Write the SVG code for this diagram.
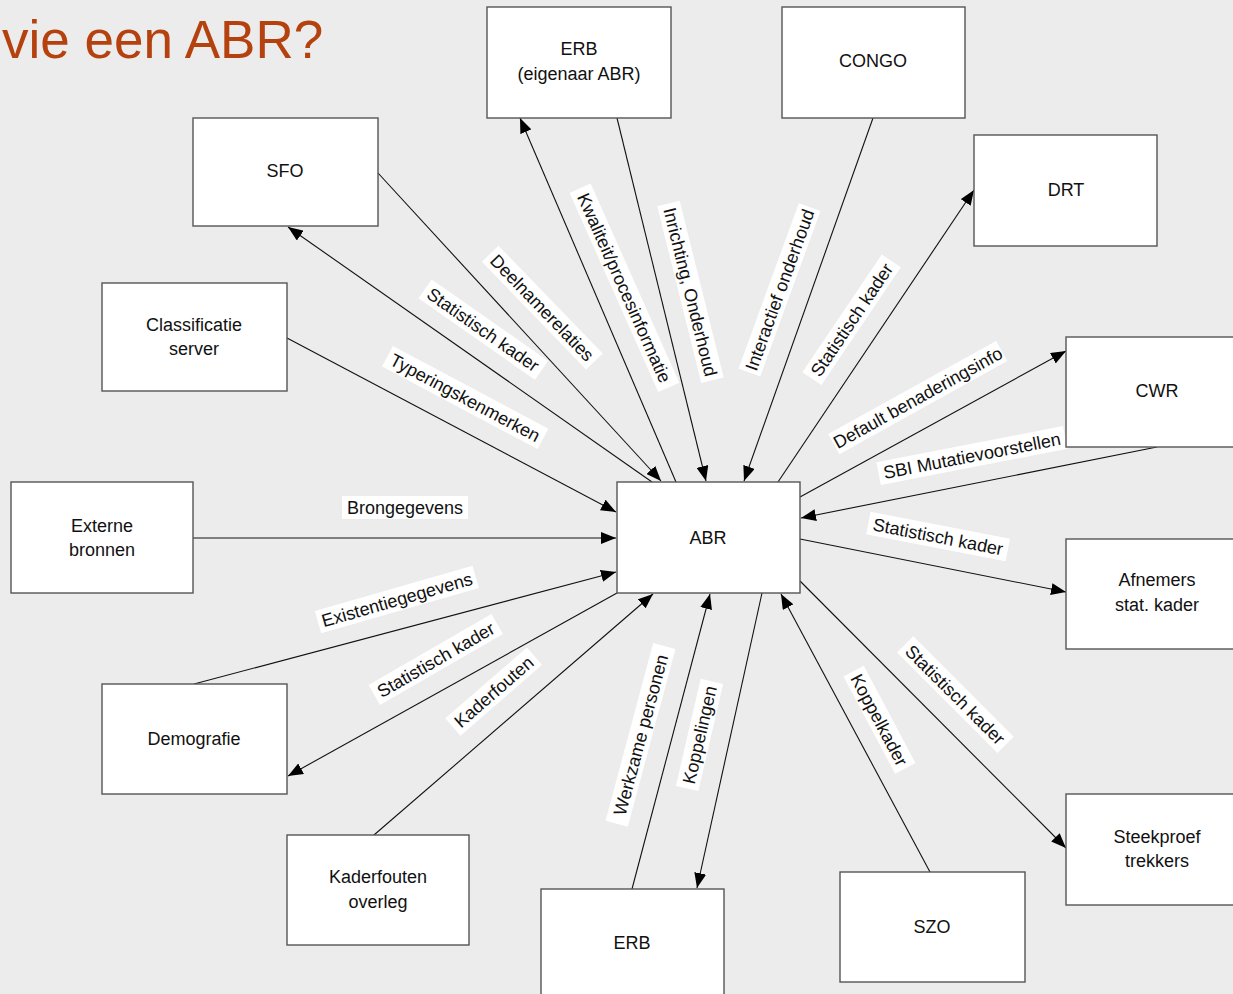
<svg xmlns="http://www.w3.org/2000/svg" width="1233" height="994" viewBox="0 0 1233 994">
<defs>
<marker id="ah" markerUnits="userSpaceOnUse" markerWidth="15" markerHeight="12" viewBox="0 0 15 12" refX="15" refY="6" orient="auto"><path d="M0,0 L15,6 L0,12 z" fill="#000"/></marker>
<style>
.box{fill:#fff;stroke:#555;stroke-width:1.4}
.t{font-family:"Liberation Sans",Arial,sans-serif;font-size:18px;fill:#111;text-anchor:middle}
.c{stroke:#111;stroke-width:1.1;fill:none;marker-end:url(#ah)}
.lb{fill:#fff}
.title{font-family:"Liberation Sans",Arial,sans-serif;font-size:53px;fill:#b5410e}
</style>
</defs>
<rect width="1233" height="994" fill="#ececec"/>
<text class="title" x="2" y="58">vie een ABR?</text>

<g id="connectors">
<line class="c" x1="378" y1="173" x2="661" y2="481"/>
<line class="c" x1="652" y1="482" x2="288" y2="227"/>
<line class="c" x1="287" y1="338" x2="616" y2="512"/>
<line class="c" x1="676" y1="482" x2="520" y2="118"/>
<line class="c" x1="617" y1="118" x2="706" y2="481"/>
<line class="c" x1="873" y1="118" x2="744" y2="481"/>
<line class="c" x1="778" y1="482" x2="974" y2="190"/>
<line class="c" x1="800" y1="497" x2="1066" y2="351"/>
<line class="c" x1="1157" y1="447" x2="801" y2="518"/>
<line class="c" x1="800" y1="539" x2="1066" y2="592"/>
<line class="c" x1="193" y1="538" x2="616" y2="538"/>
<line class="c" x1="194" y1="684" x2="616" y2="572"/>
<line class="c" x1="617" y1="593" x2="288" y2="776"/>
<line class="c" x1="374" y1="835" x2="653" y2="594"/>
<line class="c" x1="632" y1="889" x2="710" y2="594"/>
<line class="c" x1="762" y1="593" x2="697" y2="888"/>
<line class="c" x1="930" y1="872" x2="781" y2="594"/>
<line class="c" x1="800" y1="581" x2="1066" y2="848"/>
</g>

<g id="labels">
<g transform="translate(542,308) rotate(46)"><rect class="lb" x="-75" y="-12" width="150" height="23"/><text class="t" y="6">Deelnamerelaties</text></g>
<g transform="translate(483,330) rotate(35)"><rect class="lb" x="-71" y="-12" width="142" height="23"/><text class="t" y="6">Statistisch kader</text></g>
<g transform="translate(465,398) rotate(28)"><rect class="lb" x="-88" y="-12" width="176" height="23"/><text class="t" y="6">Typeringskenmerken</text></g>
<g transform="translate(624,288) rotate(66)"><rect class="lb" x="-109" y="-12" width="218" height="23"/><text class="t" y="6">Kwaliteit/procesinformatie</text></g>
<g transform="translate(690,292) rotate(76)"><rect class="lb" x="-91" y="-12" width="182" height="23"/><text class="t" y="6">Inrichting, Onderhoud</text></g>
<g transform="translate(780,290) rotate(-70)"><rect class="lb" x="-88" y="-12" width="176" height="23"/><text class="t" y="6">Interactief onderhoud</text></g>
<g transform="translate(852,320) rotate(-56)"><rect class="lb" x="-71" y="-12" width="142" height="23"/><text class="t" y="6">Statistisch kader</text></g>
<g transform="translate(918,398) rotate(-29)"><rect class="lb" x="-96" y="-12" width="192" height="23"/><text class="t" y="6">Default benaderingsinfo</text></g>
<g transform="translate(972,456) rotate(-11)"><rect class="lb" x="-95" y="-12" width="190" height="23"/><text class="t" y="6">SBI Mutatievoorstellen</text></g>
<g transform="translate(938,537) rotate(11)"><rect class="lb" x="-71" y="-12" width="142" height="23"/><text class="t" y="6">Statistisch kader</text></g>
<g transform="translate(405,508)"><rect class="lb" x="-63" y="-12" width="126" height="23"/><text class="t" y="6">Brongegevens</text></g>
<g transform="translate(397,600) rotate(-16)"><rect class="lb" x="-82" y="-12" width="164" height="23"/><text class="t" y="6">Existentiegegevens</text></g>
<g transform="translate(436,660) rotate(-30)"><rect class="lb" x="-71" y="-12" width="142" height="23"/><text class="t" y="6">Statistisch kader</text></g>
<g transform="translate(494,692) rotate(-41)"><rect class="lb" x="-54" y="-12" width="108" height="23"/><text class="t" y="6">Kaderfouten</text></g>
<g transform="translate(641,735) rotate(-75)"><rect class="lb" x="-92" y="-12" width="184" height="23"/><text class="t" y="6">Werkzame personen</text></g>
<g transform="translate(700,735) rotate(-77)"><rect class="lb" x="-55" y="-12" width="110" height="23"/><text class="t" y="6">Koppelingen</text></g>
<g transform="translate(879,720) rotate(62)"><rect class="lb" x="-55" y="-12" width="110" height="23"/><text class="t" y="6">Koppelkader</text></g>
<g transform="translate(955,695) rotate(45)"><rect class="lb" x="-71" y="-12" width="142" height="23"/><text class="t" y="6">Statistisch kader</text></g>
</g>

<g id="erb-top"><rect class="box" x="487" y="7" width="184" height="111"/><text class="t" x="579" y="55">ERB</text><text class="t" x="579" y="80">(eigenaar ABR)</text></g>
<g id="congo"><rect class="box" x="782" y="7" width="183" height="111"/><text class="t" x="873" y="67">CONGO</text></g>
<g id="sfo"><rect class="box" x="193" y="118" width="185" height="108"/><text class="t" x="285" y="177">SFO</text></g>
<g id="drt"><rect class="box" x="974" y="135" width="183" height="111"/><text class="t" x="1066" y="196">DRT</text></g>
<g id="classificatie"><rect class="box" x="102" y="283" width="185" height="108"/><text class="t" x="194" y="331">Classificatie</text><text class="t" x="194" y="355">server</text></g>
<g id="cwr"><rect class="box" x="1066" y="337" width="182" height="110"/><text class="t" x="1157" y="397">CWR</text></g>
<g id="externe"><rect class="box" x="11" y="482" width="182" height="111"/><text class="t" x="102" y="532">Externe</text><text class="t" x="102" y="556">bronnen</text></g>
<g id="abr"><rect class="box" x="617" y="482" width="183" height="111"/><text class="t" x="708" y="544">ABR</text></g>
<g id="afnemers"><rect class="box" x="1066" y="539" width="182" height="110"/><text class="t" x="1157" y="586">Afnemers</text><text class="t" x="1157" y="611">stat. kader</text></g>
<g id="demografie"><rect class="box" x="102" y="684" width="185" height="110"/><text class="t" x="194" y="745">Demografie</text></g>
<g id="steekproef"><rect class="box" x="1066" y="794" width="182" height="111"/><text class="t" x="1157" y="843">Steekproef</text><text class="t" x="1157" y="867">trekkers</text></g>
<g id="kaderfouten"><rect class="box" x="287" y="835" width="182" height="110"/><text class="t" x="378" y="883">Kaderfouten</text><text class="t" x="378" y="908">overleg</text></g>
<g id="erb-bottom"><rect class="box" x="541" y="889" width="183" height="112"/><text class="t" x="632" y="949">ERB</text></g>
<g id="szo"><rect class="box" x="840" y="872" width="185" height="110"/><text class="t" x="932" y="933">SZO</text></g>
</svg>
